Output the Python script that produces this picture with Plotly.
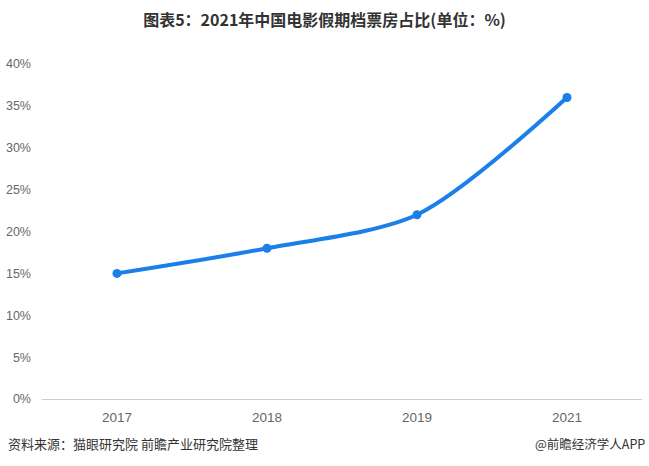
import plotly.graph_objects as go

years = ["2017", "2018", "2019", "2021"]
share = [15, 18, 22, 36]
y_ticks = [0, 5, 10, 15, 20, 25, 30, 35, 40]
y_tick_labels = [f"{v}%" for v in y_ticks]

fig = go.Figure()
fig.add_trace(go.Scatter(
    x=years, y=share, mode="lines+markers",
    line=dict(color="#1a7fe8", width=4, shape="spline", smoothing=0.8),
    marker=dict(color="#1a7fe8", size=9),
    hoverinfo="skip",
))

fig.update_layout(
    width=649, height=466,
    margin=dict(l=42, r=7, t=64, b=67),
    paper_bgcolor="white", plot_bgcolor="white",
    showlegend=False,
    font=dict(family="Liberation Sans, Noto Sans CJK SC", color="#666", size=12),
    title=dict(text="<b>图表5：2021年中国电影假期档票房占比(单位：%)</b>",
               x=0.5, xanchor="center", y=0.957, yanchor="middle",
               font=dict(family="Noto Sans CJK SC", size=16, color="#333")),
    xaxis=dict(type="category", range=[-0.5, 3.5], showgrid=False,
               showline=True, linecolor="#ccc", linewidth=1, ticks="",
               ticklabelstandoff=6,
               tickfont=dict(size=13.5, color="#666"), fixedrange=True, zeroline=False),
    yaxis=dict(range=[0, 40], tickvals=y_ticks, ticktext=y_tick_labels,
               showgrid=False, zeroline=False, showline=False, ticks="",
               ticklabelstandoff=10,
               tickfont=dict(size=12.5, color="#666"), fixedrange=True),
)

fig.add_annotation(text="资料来源：猫眼研究院 前瞻产业研究院整理", xref="paper", yref="paper",
                   x=-36/600, y=-44/335, xanchor="left", yanchor="middle", showarrow=False,
                   font=dict(family="Noto Sans CJK SC", size=13, color="#333"))
fig.add_annotation(text="@前瞻经济学人APP", xref="paper", yref="paper",
                   x=(649-2-42)/600, y=-44/335, xanchor="right", yanchor="middle", showarrow=False,
                   font=dict(family="Noto Sans CJK SC", size=12.5, color="#333"))

fig.write_html("out.html", config={"displayModeBar": False},
               post_script="document.body.style.margin='0';")
